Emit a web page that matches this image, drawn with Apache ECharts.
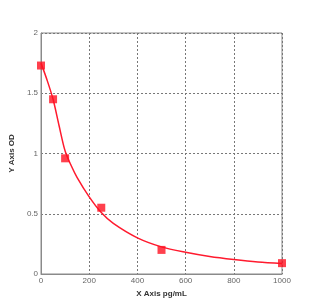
<!DOCTYPE html>
<html><head><meta charset="utf-8">
<script src="https://cdn.jsdelivr.net/npm/echarts@6/dist/echarts.min.js"></script>
<style>html,body{margin:0;padding:0;background:#fff}#c{width:330px;height:307px}</style>
</head><body><div id="c"></div>
<script>
var pointX = [0, 50, 100, 250, 500, 1000];
var pointY = [1.73, 1.45, 0.96, 0.55, 0.20, 0.09];
var curveX = [0, 25, 50, 75, 100, 125, 150, 200, 250, 300, 400, 500, 600, 700, 800, 900, 1000];
var curveY = [1.75, 1.61, 1.45, 1.23, 1.02, 0.90, 0.80, 0.64, 0.51, 0.42, 0.30, 0.225, 0.18, 0.145, 0.12, 0.10, 0.088];
var xTicks = [0, 200, 400, 600, 800, 1000];
var yTicks = [0, 0.5, 1, 1.5, 2];

var chart = echarts.init(document.getElementById('c'));
var pts = pointX.map(function (x, i) { return [x, pointY[i]]; });
var crv = curveX.map(function (x, i) { return [x, curveY[i]]; });
var grid = {color: '#777', type: [2, 2], width: 1};
chart.setOption({
  animation: false,
  grid: {left: 36, right: 48, top: 33, bottom: 33, show: true, borderColor: '#8a8a8a', borderWidth: 1},
  xAxis: {
    type: 'value', min: xTicks[0], max: xTicks[xTicks.length - 1], interval: 200,
    name: 'X Axis pg/mL', nameLocation: 'middle', nameGap: 13,
    nameTextStyle: {fontFamily: 'Liberation Sans', fontSize: 8, fontWeight: 'bold', color: '#333'},
    axisLine: {lineStyle: {color: '#8a8a8a'}}, axisTick: {show: false},
    axisLabel: {fontFamily: 'Liberation Sans', fontSize: 8, color: '#666', margin: 3,
      formatter: function (v) { return String(v); }},
    splitLine: {lineStyle: grid}
  },
  yAxis: {
    type: 'value', min: yTicks[0], max: yTicks[yTicks.length - 1], interval: 0.5,
    name: 'Y Axis OD', nameLocation: 'middle', nameGap: 17,
    nameTextStyle: {fontFamily: 'Liberation Sans', fontSize: 8, fontWeight: 'bold', color: '#333'},
    axisLine: {show: true, lineStyle: {color: '#8a8a8a'}}, axisTick: {show: false},
    axisLabel: {fontFamily: 'Liberation Sans', fontSize: 8, color: '#666', margin: 3},
    splitLine: {lineStyle: grid}
  },
  series: [
    {type: 'line', data: crv, smooth: 0.3, showSymbol: false, lineStyle: {color: '#ff1a2e', width: 1.5}, z: 2},
    {type: 'scatter', data: pts, symbol: 'rect', symbolSize: 8, itemStyle: {color: '#ff1020'}, z: 3}
  ]
});
</script></body></html>
